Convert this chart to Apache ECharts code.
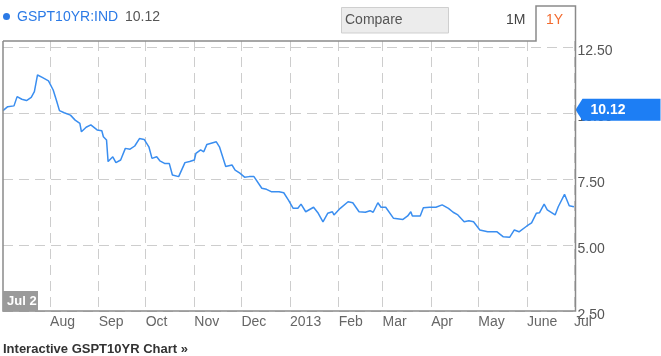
<!DOCTYPE html>
<html>
<head>
<meta charset="utf-8">
<script src="https://cdn.jsdelivr.net/npm/echarts@6/dist/echarts.min.js"></script>
<style>
html,body{margin:0;padding:0;background:#fff;}
#chart{width:661px;height:356px;}
</style>
</head>
<body>
<div id="chart"></div>
<script>
// ---- data ----
const dates = [
'2012-07-02','2012-07-05','2012-07-09','2012-07-11','2012-07-14','2012-07-17','2012-07-20','2012-07-22','2012-07-24','2012-07-27','2012-07-31',
'2012-08-03','2012-08-05','2012-08-07','2012-08-10','2012-08-14','2012-08-17','2012-08-20','2012-08-21','2012-08-24','2012-08-27','2012-08-31',
'2012-09-03','2012-09-04','2012-09-06','2012-09-07','2012-09-10','2012-09-12','2012-09-15','2012-09-18','2012-09-21','2012-09-24','2012-09-27','2012-09-30',
'2012-10-03','2012-10-05','2012-10-08','2012-10-10','2012-10-13','2012-10-16','2012-10-18','2012-10-22','2012-10-26','2012-10-29',
'2012-11-01','2012-11-02','2012-11-05','2012-11-07','2012-11-09','2012-11-15','2012-11-17','2012-11-21','2012-11-25','2012-11-27','2012-11-30',
'2012-12-03','2012-12-06','2012-12-09','2012-12-14','2012-12-17','2012-12-20','2012-12-25','2012-12-28','2012-12-31',
'2013-01-03','2013-01-06','2013-01-08','2013-01-11','2013-01-16','2013-01-19','2013-01-22','2013-01-25','2013-01-28','2013-01-29',
'2013-02-02','2013-02-07','2013-02-10','2013-02-14','2013-02-18','2013-02-21','2013-02-23','2013-02-26','2013-02-28',
'2013-03-03','2013-03-08','2013-03-14','2013-03-17','2013-03-19','2013-03-20','2013-03-25','2013-03-27','2013-03-31',
'2013-04-04','2013-04-08','2013-04-12','2013-04-15','2013-04-18','2013-04-22','2013-04-25','2013-04-28',
'2013-05-02','2013-05-07','2013-05-13','2013-05-17','2013-05-21','2013-05-24','2013-05-27',
'2013-06-01','2013-06-04','2013-06-07','2013-06-09','2013-06-12','2013-06-14','2013-06-19','2013-06-21','2013-06-25','2013-06-28',
'2013-07-01'
];
const yields = [
10.09,10.24,10.27,10.62,10.52,10.47,10.59,10.81,11.44,11.35,11.22,
10.87,10.49,10.09,10.01,9.92,9.73,9.61,9.29,9.46,9.55,9.36,
9.33,9.10,8.98,8.16,8.34,8.12,8.22,8.66,8.63,8.75,9.03,9.00,
8.72,8.28,8.34,8.19,8.09,8.09,7.65,7.59,8.12,8.16,
8.22,8.47,8.60,8.53,8.81,8.91,8.72,7.97,8.03,7.84,7.72,
7.57,7.59,7.59,7.15,7.11,7.02,7.02,6.98,6.70,
6.39,6.39,6.55,6.26,6.43,6.20,5.88,6.20,6.26,6.14,
6.39,6.64,6.60,6.26,6.24,6.30,6.24,6.60,6.43,
6.43,6.01,5.97,6.10,6.26,6.10,6.10,6.41,6.43,
6.43,6.52,6.39,6.24,6.14,5.88,5.92,5.88,
5.57,5.50,5.50,5.31,5.29,5.57,5.50,
5.72,5.84,6.20,6.22,6.55,6.33,6.14,6.45,6.92,6.49,
6.45
];
const monthTicks = ['2012-08-01','2012-09-01','2012-10-01','2012-11-01','2012-12-01','2013-01-01','2013-02-01','2013-03-01','2013-04-01','2013-05-01','2013-06-01','2013-07-01'];
const monthLabels = ['Aug','Sep','Oct','Nov','Dec','2013','Feb','Mar','Apr','May','June','Jul'];
const yTicks = [2.5, 5, 7.5, 10, 12.5];
const symbolName = 'GSPT10YR:IND';
const lastPrice = '10.12';
const startLabel = 'Jul 2';
const axisStart = '2012-07-02';
const axisEnd = '2013-07-02';

function ts(s){ const p = s.split('-').map(Number); return new Date(p[0], p[1]-1, p[2]).getTime(); }
const tickTs = monthTicks.map(ts);
const seriesData = dates.map((d,i)=>[ts(d), yields[i]]);

const chart = echarts.init(document.getElementById('chart'));
const FONT = '"Liberation Sans", Arial, Helvetica, sans-serif';
const grid = {left:3, right:85.5, top:41, bottom:45};
const yMax = 12.5 + 6/26.4;

chart.setOption({
  animation:false,
  backgroundColor:'#fff',
  grid: grid,
  xAxis: {
    type:'value',
    min: ts(axisStart), max: ts(axisEnd),
    axisLine:{show:false},
    axisTick:{show:false, customValues: tickTs},
    splitLine:{show:true, lineStyle:{color:'#cdcdcd', type:[10,6], width:1}},
    axisLabel:{
      customValues: tickTs,
      align:'left', margin:4,
      color:'#666', fontSize:14, fontFamily:FONT,
      formatter: function(v){ const i = tickTs.indexOf(v); return i>=0 ? monthLabels[i] : ''; }
    }
  },
  yAxis: {
    type:'value', position:'right',
    min:2.5, max:yMax,
    axisLine:{show:false},
    axisTick:{show:false, customValues: yTicks},
    splitLine:{show:true, lineStyle:{color:'#cdcdcd', type:[10,6], width:1}},
    axisLabel:{
      customValues: yTicks,
      margin:2, color:'#555', fontSize:14, fontFamily:FONT,
      verticalAlign:'top', lineHeight:8,
      formatter: v => v.toFixed(2)
    }
  },
  series: [{
    type:'line',
    data: seriesData,
    showSymbol:false,
    lineStyle:{color:'#3a8ef0', width:1.5},
    itemStyle:{color:'#3a8ef0'},
    markPoint:{
      silent:true,
      symbol:'path://M0,11 L7,0 L85,0 L85,22 L7,22 Z',
      symbolSize:[85,22],
      symbolOffset:[42.5,0],
      itemStyle:{color:'#1d7ef4'},
      label:{show:true, position:'inside', offset:[-10,0], color:'#fff', fontWeight:'bold', fontSize:14, fontFamily:FONT, formatter: lastPrice},
      data:[{coord:[ts(axisEnd), parseFloat(lastPrice)]}]
    }
  }],
  graphic: [
    {type:'polyline', z:50, shape:{points:[[3,41],[536,41],[536,6],[575.5,6],[575.5,311],[3,311],[3,41]]},
     style:{stroke:'#8a8a8a', lineWidth:1.5, fill:null}},
    {type:'circle', shape:{cx:6.5, cy:16.5, r:3.5}, style:{fill:'#2b7ae6'}},
    {type:'text', x:17, y:17, style:{text:symbolName, fill:'#2b7ae6', font:'14px '+FONT, verticalAlign:'middle'}},
    {type:'text', x:125, y:17, style:{text:lastPrice, fill:'#555', font:'14px '+FONT, verticalAlign:'middle'}},
    {type:'rect', shape:{x:341.5, y:7.5, width:107, height:25.5}, style:{fill:'#ececec', stroke:'#cfcfcf', lineWidth:1}},
    {type:'text', x:345, y:20.5, style:{text:'Compare', fill:'#555', font:'14px '+FONT, verticalAlign:'middle'}},
    {type:'text', x:506, y:20, style:{text:'1M', fill:'#444', font:'14px '+FONT, verticalAlign:'middle'}},
    {type:'text', x:546, y:20, style:{text:'1Y', fill:'#f26a2e', font:'14px '+FONT, verticalAlign:'middle'}},
    {type:'rect', z:51, shape:{x:3, y:291, width:35, height:20}, style:{fill:'#9a9a9a'}},
    {type:'text', z:52, x:7, y:301.5, style:{text:startLabel, fill:'#fff', font:'bold 13px '+FONT, verticalAlign:'middle'}},
    {type:'text', x:3, y:349, style:{text:'Interactive GSPT10YR Chart \u00bb', fill:'#333', font:'bold 13px '+FONT, verticalAlign:'middle'}}
  ]
});
</script>
</body>
</html>
